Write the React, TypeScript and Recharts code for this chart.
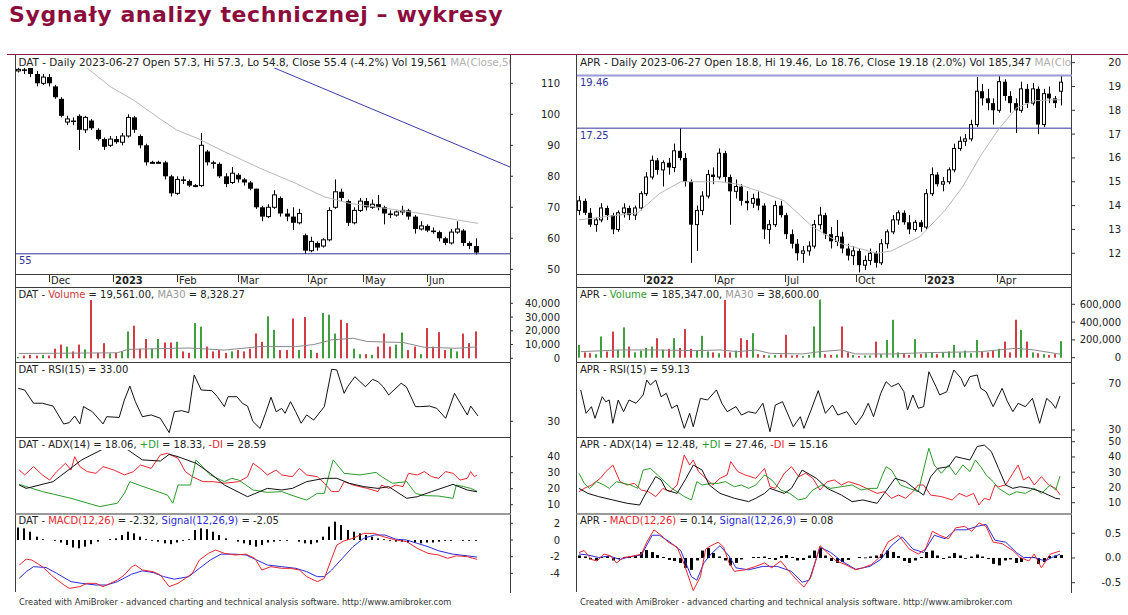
import React from "react";
import { ComposedChart, Bar, Line, XAxis, YAxis, ReferenceLine } from "recharts";

const FONT = '"DejaVu Sans", Verdana, sans-serif';
const RED = "#e8262e";
const GREEN = "#2a9b2a";
const BLUE = "#2b2bd8";
const NAVY = "#333399";
const MA_GRAY = "#b8b8b8";
const VOL_UP = "#3f9f3f";
const VOL_DOWN = "#d23c44";
const PAD = 6;

// DAT - one candle per 2 sessions (open, high, low, close), 2022-11-17 .. 2023-06-27
const datCandles = [
  [114, 115, 113.5, 114.5], [114.5, 115.5, 113, 114], [115, 115.5, 112, 113], [113, 114, 109, 110],
  [110, 113, 109.5, 112], [112, 113, 109, 110], [109, 109.5, 105, 105.5], [105, 105.5, 99, 99.5],
  [97.5, 99.5, 96.5, 98.5], [98, 99, 96.5, 97.5], [99.5, 100, 88.5, 95], [95, 99.5, 94, 99],
  [98, 98.5, 95, 95.5], [95, 95.5, 91.5, 92], [92, 92.5, 88.5, 89.5], [90, 93, 89.5, 92],
  [92, 93, 90.5, 91], [91, 94, 90, 93], [93, 100, 92.5, 99], [99, 99.5, 94, 95],
  [93, 93.5, 89, 90], [90, 90.5, 83.5, 84.5], [84.5, 85, 84, 84.5], [84.5, 85, 84, 84.5],
  [84.5, 85, 79, 80], [80, 80.5, 73.5, 74.5], [74.5, 80, 74, 79], [79, 80, 77.5, 78.5],
  [78.5, 79, 76.5, 77], [77, 77.5, 76.5, 77], [77, 94, 76.5, 90], [88, 88.5, 83.5, 84.5],
  [84.5, 85, 82.5, 84], [84, 84.5, 79.5, 80], [80, 81, 76.5, 77.5], [78, 83, 77.5, 81],
  [80.5, 81, 78, 79], [79, 79.5, 77, 78], [78, 78.5, 75.5, 76], [76, 76, 69.5, 70],
  [70, 70.5, 65.5, 67], [67, 71, 66.5, 70], [70, 75.5, 69.5, 74], [73, 73.5, 67, 68],
  [68, 69.5, 65.5, 67], [67, 70, 62.7, 65], [65, 69.5, 64.5, 68], [61, 61.5, 55, 56],
  [56, 60.5, 55.5, 59], [58.5, 59, 56, 57], [57.5, 60, 57, 59.5], [59.5, 70, 59, 69],
  [70, 79, 69.5, 75], [75, 76, 72, 73], [72, 72.5, 64, 65], [65, 70, 64.5, 69],
  [69, 73, 68.5, 72], [72, 73, 69, 70], [70, 72.5, 69.5, 71], [71, 74, 69, 70],
  [70, 70.5, 64.5, 68], [68, 69, 66.5, 67.5], [67.5, 69, 67, 68.5], [68.5, 70.5, 67.5, 69],
  [69, 69.5, 66, 67], [67, 67.5, 61.5, 63], [63, 65.5, 62.5, 64], [64, 64.5, 62, 62.5],
  [62.5, 63.5, 61.5, 62], [62, 62.5, 59, 60], [60, 60.5, 57.8, 58.5], [58.5, 63, 58, 62],
  [62, 65.5, 61.5, 63], [62.5, 63, 57.5, 58.5], [58.5, 59, 56.5, 57.5], [57.5, 60, 54.8, 55.4],
];
const datVolume = [
  1000, 2000, 2500, 2000, 2500, 2000, 7000, 10000, 8500, 5000,
  10000, 6500, 42700, 4000, 11000, 3500, 4000, 5000, 19500, 23700,
  7000, 14000, 7000, 14000, 11500, 11500, 12000, 5000, 4000, 25600,
  23000, 8500, 5000, 6000, 4000, 5000, 6000, 5000, 7000, 18000,
  12000, 30500, 20700, 6000, 6000, 29000, 6000, 30000, 6000, 4000,
  33000, 31700, 18000, 28000, 25600, 7000, 3000, 3000, 2500, 8500,
  18000, 8500, 10000, 18800, 6000, 8500, 3000, 22000, 8500, 19000,
  6000, 7000, 5000, 18000, 11000, 19561,
];
const datHist = [
  1.5, 1.4, 1.0, 0.4, 0.1, 0, -0.1, -0.3, -0.6, -0.9,
  -1.0, -0.8, -0.5, -0.2, 0, 0.1, 0.2, 0.6, 1.0, 0.8,
  0.4, 0.1, -0.1, -0.2, -0.4, -0.5, -0.3, -0.1, 0.1, 1.2,
  1.4, 1.3, 1.0, 0.6, 0.2, 0, -0.2, -0.4, -0.6, -0.8,
  -0.6, -0.3, -0.2, -0.1, -0.1, 0, -0.2, -0.4, -0.5, -0.3,
  0.4, 1.6, 2.2, 1.8, 1.2, 1.0, 0.8, 0.6, 0.4, 0.2,
  0.1, -0.1, -0.2, -0.2, -0.3, -0.3, -0.4, -0.3, -0.3, -0.2,
  -0.1, -0.1, 0, -0.05, -0.05, -0.1,
];
// [session, value] points
const datMa = [[22, 115.4], [30.2, 108.9], [37.8, 104.6], [45.5, 99.2], [52, 94.9], [58.6, 92.3], [67.5, 88], [79.3, 82.6], [91.1, 77.7], [100.3, 73.4], [108.5, 71.3], [120.3, 69.7], [132.1, 68], [143.6, 66], [150.8, 64.8]];
const datTrend = [[83.4, 115.2], [161.3, 83]];
const datVolMa = [[0.3, 3500], [32.5, 4000], [36, 6500], [56, 7500], [67.6, 6000], [79.3, 8500], [91, 8500], [96.9, 10000], [102.8, 13400], [109.8, 14600], [114.5, 12200], [126.2, 11500], [133.2, 8000], [143.7, 7300], [150.5, 8328]];
const datRsi = [[0, 48.6], [2.1, 47.7], [5, 40.2], [7.9, 40.2], [11.4, 38.6], [14.9, 28.5], [16.7, 29.2], [18.5, 33], [20.2, 28.5], [21.4, 38.3], [24.3, 35.4], [27.8, 28.5], [29, 32.6], [33.1, 32.2], [34.8, 42], [36.6, 49.9], [38.4, 41.1], [40.7, 32.6], [43.6, 33.6], [46.6, 31.7], [49.5, 23.6], [51.2, 35.4], [53.6, 36], [55.9, 34.9], [57.7, 56.2], [60, 47.7], [63.5, 47.3], [65.3, 43.9], [67.6, 38.3], [68.8, 43.9], [71.7, 43.9], [73.5, 40.2], [75.2, 38.6], [77, 29.8], [79.3, 26], [81.1, 34.5], [82.9, 43.6], [84.6, 35.4], [86.4, 37.3], [87.5, 34.5], [89.3, 41.1], [91, 35.4], [92.8, 28.9], [94.6, 33.6], [96.9, 30.7], [100.4, 38.3], [102.8, 59.4], [104.5, 59], [106.9, 45.8], [108, 49.5], [110.4, 55.2], [113.9, 49.5], [116.2, 53.7], [118, 52.4], [119.7, 49.5], [121.5, 44.9], [125.6, 51.5], [127.3, 49.5], [130.3, 38.3], [132, 38.3], [134.9, 38.6], [137.3, 37.3], [140.2, 31.7], [143.1, 45.8], [147.3, 33.6], [148.4, 38.6], [150.8, 33]];
const datAdx = [[0.3, 22.3], [2.6, 20.2], [11.4, 24.4], [20.8, 38], [27.2, 44.2], [31.3, 49], [36, 44.2], [40.7, 38], [46.6, 37.3], [49.5, 41.5], [52.4, 40], [58.3, 35.9], [63, 29.6], [67.6, 22.3], [75.2, 15], [81.7, 20.2], [86.4, 19.2], [89.9, 20.2], [94.6, 24.4], [100.4, 26.5], [104.5, 26.5], [108.6, 23.4], [113.3, 21.3], [118, 20.2], [121.5, 21.3], [127.4, 14], [130.9, 15], [135.6, 18.2], [142.6, 22.7], [147.3, 19.2], [150.5, 18.06]];
const datPlusDi = [[0.3, 22.7], [7.9, 18.2], [17.3, 14], [26.7, 8.8], [32.5, 10.9], [34.8, 17.1], [36.6, 24.4], [39.5, 22.3], [44.2, 19.2], [48.9, 16.1], [50.7, 10.9], [52.4, 22.3], [56.5, 22.3], [58.3, 38], [63, 28.6], [67.6, 24.4], [70, 26.5], [72.3, 25.4], [77, 19.2], [81.7, 17.7], [86.4, 18.2], [91.1, 15], [94.6, 12.9], [98.1, 17.1], [100.4, 17.1], [102.2, 30.7], [103.3, 38], [106.9, 29.6], [112.1, 28.6], [117.4, 30.2], [119.2, 27.5], [122.7, 23.4], [127.4, 24.4], [130.3, 17.1], [133.2, 15.7], [137.9, 15.4], [142.6, 14], [143.7, 22.3], [146.1, 21.3], [148.4, 20.2], [150.5, 18.33]];
const datMinusDi = [[0.3, 31.7], [2.1, 28.6], [5, 33.8], [7.9, 28.6], [10.3, 25.4], [12.6, 30.7], [15.5, 35.9], [17.3, 31.7], [18.5, 40], [20.2, 33.8], [22.6, 30.7], [25.5, 29.6], [27.8, 33.8], [31.3, 31.7], [34.8, 28.6], [37.8, 30.7], [40.1, 34.8], [43.6, 32.7], [46.6, 41.1], [48.9, 42.1], [52.4, 39], [54.8, 30.7], [57.1, 27.5], [60.6, 24.4], [64.1, 24.4], [67.6, 23.4], [72.3, 24.4], [75.2, 27.5], [77, 35.9], [79.3, 32.7], [81.7, 28.6], [84.6, 31.7], [86.4, 28.6], [89.9, 27.5], [92.2, 32.7], [94.6, 28.6], [98.1, 27.5], [100.4, 23.4], [102.8, 18.2], [105.1, 18.2], [106.9, 24.4], [109.8, 22.3], [114.5, 20.2], [118, 18.2], [119.2, 22.3], [121.5, 20.2], [123.8, 22.3], [126.2, 21.3], [128, 29.6], [130.9, 28.6], [133.2, 30.7], [135.6, 27.5], [137.9, 26.5], [140.2, 30.7], [142.6, 29.6], [144.9, 25.4], [147.3, 26.5], [148.4, 30.7], [149.6, 27.5], [150.5, 28.59]];
const datMacd = [[0.3, -3], [2.6, -2.3], [4.4, -2.4], [7.9, -3.2], [11.4, -4.4], [15, -5.4], [16.7, -5.8], [20.2, -5.6], [22.6, -5.2], [25.5, -5.2], [27.8, -5.6], [30.2, -5.2], [32.5, -4.8], [34.8, -4.2], [37.2, -3.2], [38.4, -3], [40.7, -3.6], [44.2, -3.8], [46.6, -4.2], [49.5, -5.6], [52.4, -5.2], [54.8, -4.6], [57.1, -4], [59.4, -2.4], [62.4, -1.6], [64.7, -1.2], [67.6, -1.6], [71.1, -1.8], [74.7, -1.7], [77.6, -2.2], [79.9, -3.6], [82.9, -3.2], [86.4, -3.4], [89.3, -3.4], [92.2, -3.6], [94.6, -4.4], [98.1, -5], [100.4, -4.6], [102.8, -2.2], [104.5, -0.6], [106.9, -0.1], [109.8, 0.2], [113.3, 0.8], [116.8, 0.8], [119.7, 0.4], [123.8, 0], [127.4, -0.2], [130.9, -1], [134.4, -1.6], [137.9, -1.8], [140.8, -2.2], [143.7, -1.9], [147.3, -2], [150.5, -2.32]];
const datSignal = [[0.3, -4.6], [2.6, -3.8], [5, -3.2], [9.1, -3.3], [12.6, -4], [17.3, -5], [20.8, -5.2], [25.5, -5.4], [29, -5.4], [32.5, -5], [37.2, -4.1], [40.7, -3.7], [44.2, -3.9], [47.7, -4.4], [51.2, -4.7], [55.9, -4.4], [59.4, -3.4], [63, -2.4], [66.5, -1.7], [71.1, -1.7], [74.7, -1.8], [78.2, -2.4], [81.7, -3], [86.4, -3.2], [91.1, -3.4], [94.6, -3.8], [98.1, -4.4], [100.4, -4.4], [102.8, -3.6], [106.3, -2.2], [109.8, -0.8], [113.3, 0.2], [116.8, 0.6], [120.3, 0.6], [123.8, 0.1], [127.4, 0], [130.9, -0.4], [134.4, -0.8], [137.9, -1.3], [142.6, -1.7], [147.3, -1.9], [150.5, -2.05]];
const datMonths = [[10, "Dec"], [31, "2023"], [52, "Feb"], [72, "Mar"], [95, "Apr"], [113, "May"], [134, "Jun"]];
const datLevels = [55];

// APR - one candle per 5 sessions, 2021-10 .. 2023-06-27
const aprCandles = [
  [13.8, 14.4, 13.6, 14.2], [14.2, 14.3, 13.6, 13.7], [13.7, 13.9, 13.1, 13.2], [13.2, 13.5, 12.9, 13.4],
  [13.4, 14.1, 13.3, 13.9], [13.9, 14.0, 13.4, 13.6], [13.6, 13.7, 12.8, 13.0], [13.0, 13.8, 12.9, 13.7],
  [13.7, 14.1, 13.5, 13.9], [13.9, 14.0, 13.4, 13.6], [13.6, 14.0, 13.4, 13.9], [13.9, 14.6, 13.8, 14.5],
  [14.5, 15.4, 14.4, 15.2], [15.2, 16.1, 15.1, 15.9], [15.9, 16.0, 15.3, 15.5], [15.5, 15.9, 14.8, 15.8],
  [15.8, 16.0, 15.3, 15.6], [15.6, 16.6, 15.4, 16.3], [16.3, 17.25, 15.9, 16.0], [16.0, 16.2, 14.8, 15.0],
  [15.0, 15.1, 11.6, 13.2], [13.2, 14.0, 12.1, 13.8], [13.8, 14.6, 13.6, 14.4], [14.4, 15.5, 14.3, 15.3],
  [15.3, 15.6, 14.9, 15.2], [15.2, 16.4, 15.1, 16.2], [16.2, 16.3, 15.0, 15.2], [15.2, 15.3, 13.2, 14.6],
  [14.6, 15.1, 14.3, 14.8], [14.8, 14.9, 14.0, 14.2], [14.2, 14.6, 13.8, 14.1], [14.1, 14.5, 13.9, 14.3],
  [14.3, 14.6, 13.8, 14.0], [14.0, 14.1, 12.6, 13.0], [13.0, 13.4, 12.4, 13.2], [13.2, 14.2, 13.1, 14.0],
  [14.0, 14.2, 13.5, 13.6], [13.6, 13.7, 12.6, 12.8], [12.8, 13.0, 12.2, 12.4], [12.4, 12.6, 11.7, 12.0],
  [12.0, 12.3, 11.6, 12.1], [12.1, 12.5, 11.9, 12.3], [12.3, 13.4, 12.2, 13.2], [13.2, 13.95, 13.0, 13.6],
  [13.6, 13.7, 12.6, 12.8], [12.8, 13.1, 12.2, 12.5], [12.5, 13.4, 12.3, 12.7], [12.7, 12.9, 12.0, 12.2],
  [12.2, 12.4, 11.7, 11.9], [11.9, 12.3, 11.5, 12.1], [12.1, 12.2, 11.2, 11.5], [11.5, 11.9, 11.3, 11.7],
  [11.7, 12.2, 11.5, 12.0], [12.0, 12.1, 11.4, 11.6], [11.6, 12.6, 11.5, 12.4], [12.4, 13.0, 12.2, 12.9],
  [12.9, 13.6, 12.8, 13.4], [13.4, 13.8, 13.2, 13.7], [13.7, 13.8, 13.2, 13.3], [13.3, 13.6, 12.8, 13.0],
  [13.0, 13.4, 12.9, 13.3], [13.3, 13.4, 12.9, 13.1], [13.1, 14.7, 13.0, 14.5], [14.5, 15.6, 14.4, 15.3],
  [15.3, 15.4, 14.8, 14.9], [14.9, 15.2, 14.6, 15.0], [15.0, 15.6, 14.9, 15.5], [15.5, 16.6, 15.4, 16.4],
  [16.4, 16.9, 16.3, 16.7], [16.7, 17.0, 16.5, 16.8], [16.8, 17.6, 16.7, 17.4], [17.4, 19.4, 17.3, 18.8],
  [18.8, 19.1, 18.2, 18.5], [18.5, 18.9, 18.0, 18.3], [18.3, 18.5, 17.4, 18.0], [18.0, 19.46, 17.9, 19.2],
  [19.2, 19.3, 18.4, 18.6], [18.6, 18.8, 17.9, 18.3], [18.3, 18.5, 17.05, 18.0], [18.0, 19.2, 17.9, 18.9],
  [18.9, 19.1, 18.1, 18.3], [18.3, 19.15, 18.2, 18.9], [18.9, 19.0, 17.0, 17.4], [17.4, 18.9, 17.3, 18.7],
  [18.7, 19.0, 18.3, 18.5], [18.5, 18.6, 18.1, 18.3], [18.8, 19.46, 18.2, 19.18],
];
const aprVolume = [
  143000, 60000, 50000, 40000, 238000, 70000, 294000, 90000, 340000, 125000,
  60000, 80000, 110000, 125000, 219000, 90000, 100000, 219000, 110000, 321000,
  100000, 80000, 245000, 70000, 60000, 50000, 653000, 60000, 80000, 219000,
  200000, 275000, 40000, 30000, 25000, 30000, 35000, 257000, 25000, 30000,
  20000, 30000, 351000, 653000, 40000, 30000, 35000, 351000, 60000, 30000,
  20000, 25000, 25000, 181000, 40000, 200000, 426000, 60000, 40000, 30000,
  208000, 40000, 50000, 60000, 40000, 60000, 70000, 143000, 60000, 80000,
  50000, 200000, 70000, 60000, 80000, 100000, 181000, 60000, 426000, 313000,
  181000, 60000, 50000, 40000, 30000, 40000, 185347,
];
const aprHist = [
  0.05, 0.03, -0.03, -0.05, 0.02, 0.04, -0.05, -0.02, 0.02, 0.03,
  0.05, 0.12, 0.16, 0.12, 0.06, 0.02, -0.04, -0.06, -0.1, -0.2,
  -0.24, -0.05, 0.15, 0.2, 0.1, 0.03, -0.05, -0.15, -0.1, -0.03,
  0, 0.02, 0.02, 0.03, -0.02, -0.04, 0.04, 0.06, 0.02, -0.05,
  -0.04, 0.05, 0.15, 0.2, 0.05, -0.06, -0.1, -0.08, -0.04, 0,
  0.02, 0.01, 0.03, 0.05, 0.08, 0.15, 0.12, 0.04, -0.06, -0.1,
  -0.05, 0.02, 0.12, 0.15, 0.05, -0.02, 0.03, 0.1, 0.05, -0.01,
  0.03, 0.07, 0.03, -0.02, -0.12, -0.15, -0.05, -0.03, -0.1, -0.08,
  0, 0.02, -0.12, -0.08, 0.04, 0.05, 0.06,
];
const aprMa = [[0, 13.4], [52.5, 13.7], [71.7, 14.5], [90.8, 15.0], [125.9, 15.0], [141.8, 14.9], [161, 14.6], [183.3, 14.2], [208.8, 13.1], [234.3, 12.4], [266.2, 12.0], [279, 12.1], [304.5, 12.7], [326.8, 13.8], [342.7, 14.8], [358.7, 16.1], [374.6, 17.2], [390.6, 18.1], [406.5, 18.4], [430, 18.45]];
const aprVolMa = [[1.5, 68000], [36.6, 87000], [71.7, 87000], [103.6, 79000], [125.9, 87000], [141.8, 68000], [157.8, 87000], [170.5, 49000], [199.2, 42000], [215.2, 68000], [234.3, 87000], [247.1, 42000], [279, 42000], [310.9, 57000], [358.7, 68000], [390.6, 106000], [406.5, 87000], [430, 38600]];
const aprRsi = [[1.5, 64.3], [6.3, 44.3], [11.1, 50], [14.3, 40], [20.7, 58.5], [23.9, 54.2], [27, 55.7], [30.2, 35.7], [35, 55.7], [39.8, 45.7], [44.6, 55.7], [50.9, 52.9], [57.3, 60], [60.5, 72.8], [63.7, 68.5], [68.5, 72.8], [73.3, 58.5], [78, 61.4], [82.8, 48.6], [87.6, 51.4], [94, 31.4], [98.8, 44.3], [102, 32.8], [108.4, 57.1], [114.7, 55.7], [122.7, 64.3], [127.5, 52.9], [132.3, 45.7], [140.2, 50], [145, 42.8], [151.4, 45.7], [157.8, 44.3], [164.2, 52.9], [170.5, 28.5], [175.3, 51.4], [181.7, 54.2], [184.9, 47.1], [191.3, 32.8], [197.6, 41.4], [200.8, 31.4], [207.2, 47.1], [213.6, 63.7], [220, 44.3], [226.3, 51.4], [231.1, 42.8], [239.1, 45.7], [247.1, 34.3], [253.4, 42.8], [258.2, 52.9], [263, 41.4], [269.4, 61.4], [274.2, 71.4], [279, 67.1], [285.3, 70], [290.1, 62.8], [293.3, 47.1], [298.1, 60], [302.9, 48.6], [307.7, 50], [312.4, 79.9], [318.8, 67.1], [322, 60], [328.4, 62.8], [334.7, 81.4], [341.1, 74.3], [344.3, 67.1], [349.1, 75.7], [355.5, 77.1], [358.7, 65.7], [363.5, 62.8], [369.8, 50], [377.8, 65.7], [382.6, 54.2], [387.4, 45.7], [392.1, 52.9], [398.5, 50], [404.9, 57.1], [411.3, 35.7], [417.6, 57.1], [422.4, 52.9], [425.6, 48.6], [429.5, 59.13]];
const aprAdx = [[0, 19.4], [7.9, 16.1], [17.5, 14], [30.2, 11.8], [43, 9.6], [54.1, 8.5], [60.5, 17.2], [68.5, 27.1], [73.3, 24.9], [78, 18.3], [87.6, 16.1], [95.6, 26], [102, 34.7], [109.9, 31.4], [116.3, 21.6], [125.9, 16.1], [138.7, 12.9], [151.4, 10.7], [157.8, 12.9], [165.7, 16.1], [170.5, 19.4], [183.3, 16.1], [189.7, 19.4], [199.2, 31.4], [212, 26], [221.6, 19.4], [234.3, 15], [243.9, 10.7], [253.4, 11.8], [266.2, 9.6], [272.6, 16.1], [282.2, 26], [291.7, 23.8], [301.3, 18.3], [307.7, 15], [314, 27.1], [320.4, 32.5], [330, 33.6], [336.3, 40.2], [342.7, 39.1], [349.1, 38], [355.5, 46.8], [361.9, 47.8], [368.2, 43.5], [374.6, 32.5], [381, 21.6], [387.4, 19.4], [393.7, 20.5], [403.3, 19.4], [412.9, 17.2], [419.3, 15], [425.6, 12.9], [429.5, 12.48]];
const aprPlusDi = [[0, 29.3], [4.7, 22.7], [9.5, 19.4], [15.9, 23.8], [22.3, 21.6], [27, 19.4], [33.4, 23.8], [39.8, 22.7], [46.2, 21.6], [52.5, 19.4], [57.3, 31.4], [63.7, 32.5], [70.1, 28.2], [76.5, 23.8], [82.8, 19.4], [87.6, 17.2], [94, 14], [100.4, 11.8], [105.2, 23.8], [109.9, 21.6], [117.9, 22.7], [124.3, 22.7], [130.7, 23.8], [138.7, 20.5], [145, 21.6], [151.4, 19.4], [157.8, 21.6], [165.7, 28.2], [172.1, 24.9], [180.1, 18.3], [188.1, 16.1], [196.1, 11.8], [202.4, 12.9], [208.8, 18.3], [216.8, 21.6], [224.8, 19.4], [234.3, 20.5], [243.9, 21.6], [251.9, 18.3], [259.8, 19.4], [266.2, 19.4], [271, 28.2], [274.2, 33.6], [279, 31.4], [286.9, 21.6], [294.9, 19.4], [302.9, 17.2], [310.9, 41.3], [312.4, 45.7], [317.2, 34.7], [323.6, 29.3], [330, 34.7], [336.3, 28.2], [342.7, 34.7], [349.1, 30.4], [353.9, 38], [358.7, 33.6], [363.5, 28.2], [369.8, 23.8], [374.6, 19.4], [384.2, 15], [390.6, 17.2], [398.5, 16.1], [406.5, 19.4], [412.9, 16.1], [420.9, 21.6], [425.6, 18.3], [429.5, 27.46]];
const aprMinusDi = [[0, 17.2], [4.7, 19.4], [11.1, 21.6], [19.1, 26], [23.9, 30.4], [30.2, 34.7], [36.6, 23.8], [43, 21.6], [49.4, 22.7], [55.7, 18.3], [62.1, 17.2], [68.5, 14], [74.9, 19.4], [81.2, 17.2], [87.6, 21.6], [94, 41.3], [98.8, 34.7], [102, 38], [106.8, 30.4], [113.1, 26], [119.5, 21.6], [125.9, 26], [132.3, 28.2], [135.5, 36.9], [141.8, 30.4], [148.2, 28.2], [157.8, 26], [165.7, 32.5], [170.5, 20.5], [175.3, 19.4], [183.3, 29.3], [189.7, 33.6], [196.1, 27.1], [202.4, 29.3], [208.8, 26], [215.2, 18.3], [221.6, 23.8], [228, 24.9], [234.3, 21.6], [240.7, 23.8], [250.3, 21.6], [259.8, 18.3], [266.2, 16.1], [272.6, 17.2], [279, 12.9], [285.3, 15], [291.7, 12.9], [298.1, 17.2], [302.9, 21.6], [307.7, 21.6], [314, 15], [323.6, 14], [333.2, 11.8], [339.5, 16.1], [345.9, 14], [352.3, 16.1], [357.1, 8.5], [361.9, 12.9], [366.7, 11.8], [371.4, 21.6], [374.6, 20.5], [381, 21.6], [387.4, 29.3], [392.1, 34.7], [396.9, 24.9], [401.7, 27.1], [406.5, 21.6], [412.9, 27.1], [419.3, 21.6], [425.6, 19.4], [429.5, 15.16]];
const aprMacd = [[0, 0.11], [4.7, 0.15], [11.1, -0.03], [15.9, -0.06], [22.3, 0.08], [28.6, 0.04], [33.4, -0.1], [39.8, 0.01], [49.4, 0.04], [55.7, 0.08], [60.5, 0.32], [66.9, 0.57], [73.3, 0.46], [79.6, 0.32], [87.6, 0.22], [94, -0.13], [98.8, -0.45], [102, -0.66], [108.4, -0.38], [113.1, 0.18], [117.9, 0.25], [124.3, 0.32], [129.1, 0.22], [133.9, -0.1], [138.7, -0.27], [148.2, -0.24], [157.8, -0.17], [165.7, -0.1], [172.1, -0.2], [180.1, -0.06], [186.5, -0.24], [194.5, -0.45], [200.8, -0.59], [207.2, -0.38], [215.2, 0.25], [221.6, 0.11], [229.6, -0.06], [237.5, -0.13], [247.1, -0.24], [253.4, -0.2], [261.4, -0.13], [269.4, 0.04], [275.8, 0.32], [285.3, 0.46], [294.9, 0.18], [302.9, 0.08], [309.3, 0.18], [315.6, 0.54], [322, 0.46], [330, 0.39], [336.3, 0.61], [344.3, 0.64], [350.7, 0.54], [357.1, 0.71], [363.5, 0.64], [369.8, 0.32], [377.8, 0.29], [387.4, 0.15], [393.7, 0.01], [401.7, -0.06], [406.5, 0.08], [412.9, -0.2], [420.9, 0.08], [429.5, 0.14]];
const aprSignal = [[0, 0.08], [7.9, 0.06], [17.5, 0.01], [27, 0.04], [36.6, -0.03], [46.2, 0.03], [55.7, 0.06], [65.3, 0.46], [71.7, 0.46], [81.2, 0.32], [90.8, 0.15], [100.4, -0.38], [105.2, -0.45], [111.5, -0.1], [117.9, 0.08], [125.9, 0.25], [133.9, 0.04], [140.2, -0.2], [151.4, -0.24], [164.2, -0.17], [176.9, -0.17], [189.7, -0.27], [199.2, -0.49], [205.6, -0.45], [215.2, 0.22], [224.8, 0.11], [234.3, -0.06], [247.1, -0.23], [259.8, -0.17], [269.4, -0.03], [279, 0.25], [288.5, 0.43], [298.1, 0.18], [307.7, 0.11], [317.2, 0.46], [326.8, 0.39], [336.3, 0.57], [345.9, 0.57], [355.5, 0.64], [363.5, 0.68], [371.4, 0.36], [381, 0.32], [390.6, 0.11], [396.9, 0.01], [406.5, 0.01], [416.1, -0.06], [422.4, 0.01], [429.5, 0.08]];
const aprMonths = [[58, "2022"], [121, "Apr"], [184, "Jul"], [247, "Oct"], [309, "2023"], [373, "Apr"]];
const aprLevels = [19.46, 17.25];

const pts = (a: number[][]) => a.map(([x, y]) => ({ x, y }));
const table = (candles: number[][], vol: number[], hist: number[], step: number) =>
  candles.map(([o, h, l, c], i) => ({ x: i * step, o, h, l, c, range: [l, h], v: vol[i], hist: hist[i] }));

const datTable = table(datCandles, datVolume, datHist, 2);
const aprTable = table(aprCandles, aprVolume, aprHist, 5);

const LEFT = { x: 16, w: 494, axisW: 60, dom: [-0.75, 161.3], body: 5, volW: 2, histW: 2 };
const RIGHT = { x: 577, w: 495, axisW: 56, dom: [-1.8, 440.2], body: 4, volW: 2, histW: 3 };

// bar centre from recharts' own x/width, drawn with a fixed pixel width
function Candle(p: any) {
  const { x, y, width, height, payload, bodyW } = p;
  if (!payload || !isFinite(y)) return null;
  const { o, h, l, c } = payload;
  const k = h > l ? height / (h - l) : 0;
  const cx = Math.round(x + width / 2);
  const yo = y + (h - o) * k;
  const yc = y + (h - c) * k;
  const up = c >= o;
  const left = cx - Math.floor(bodyW / 2);
  const top = Math.min(yo, yc);
  const bh = Math.max(1, Math.abs(yo - yc));
  return (
    <g>
      <line x1={cx + 0.5} x2={cx + 0.5} y1={y} y2={y + height} stroke="#000" strokeWidth={1} />
      {up ? (
        <rect x={left + 0.5} y={top} width={bodyW - 1} height={bh} fill="#fff" stroke="#000" strokeWidth={1} />
      ) : (
        <rect x={left} y={top} width={bodyW} height={bh} fill="#000" />
      )}
    </g>
  );
}

function CrispBar(p: any) {
  const { x, y, width, height, payload, color, barW } = p;
  if (!isFinite(y) || !height) return null;
  const fill = color || (payload.c >= payload.o ? VOL_UP : VOL_DOWN);
  const cx = Math.round(x + width / 2);
  return <rect x={cx - Math.floor(barW / 2)} y={Math.min(y, y + height)} width={barW} height={Math.max(0.8, Math.abs(height))} fill={fill} />;
}

function DateTick({ x, payload, h, dates }: any) {
  const d = dates.find((e: any) => e[0] === payload.value);
  if (!d) return null;
  const year = /^\d{4}$/.test(d[1]);
  const base = PAD + h;
  const tx = Math.round(x) + 0.5;
  return (
    <g>
      <line x1={tx} x2={tx} y1={base + 1} y2={base + 8} stroke="#333" />
      <text x={tx + 1.5} y={base + 9.5} fontSize={10} fontWeight={year ? "bold" : "normal"} fill="#222" fontFamily={FONT}>{d[1]}</text>
    </g>
  );
}

const levelLabel = (text: string) => (p: any) => (
  <text x={p.viewBox.x + 3} y={p.viewBox.y + 10.5} fontSize={10} fill={NAVY} fontFamily={FONT}>{text}</text>
);

function Pane(props: any) {
  const { side, top, h, yDomain, yTicks, fmt, data, dates, children } = props;
  const dateH = dates ? 13 : 0;
  return (
    <div style={{ position: "absolute", left: side.x, top: top - PAD }}>
      <ComposedChart width={side.w + side.axisW} height={h + dateH + 2 * PAD} data={data}
        margin={{ top: PAD, right: 0, bottom: PAD, left: 0 }}>
        <XAxis type="number" dataKey="x" domain={side.dom} allowDataOverflow hide={!dates} height={dateH || 1}
          ticks={dates ? dates.map((d: any) => d[0]) : undefined} interval={0} axisLine={false} tickLine={false}
          tick={dates ? (p: any) => <DateTick {...p} h={h} dates={dates} /> : false} />
        <YAxis orientation="right" width={side.axisW} domain={yDomain} allowDataOverflow ticks={yTicks} interval={0}
          axisLine={false} tickSize={3} tickLine={{ stroke: "#333" }}
          tick={(p: any) => (
            <text x={544} y={p.y} dy={3.5} textAnchor="end" fontSize={10} fill="#222" fontFamily={FONT}>
              {fmt ? fmt(p.payload.value) : p.payload.value}
            </text>
          )} />
        {children}
      </ComposedChart>
    </div>
  );
}

function Header({ left, top, parts, size = 10 }: any) {
  return (
    <div style={{ position: "absolute", left, top, width: 491, overflow: "hidden", whiteSpace: "nowrap", fontSize: size, lineHeight: "12px", fontFamily: FONT, color: "#222" }}>
      <span style={{ background: "#fff" }}>
        {parts.map((p: any, i: number) => <span key={i} style={{ color: p[1] || "#222" }}>{p[0]}</span>)}
      </span>
    </div>
  );
}

const fmtVol = (v: number) => v.toLocaleString("en-US");

function panels(side: any, t: any) {
  const line = (d: number[][], color: string, w = 1) => (
    <Line data={pts(d)} dataKey="y" stroke={color} strokeWidth={w} dot={false} isAnimationActive={false} />
  );
  return (
    <>
      <Pane side={side} top={55} h={219} yDomain={t.priceDom} yTicks={t.priceTicks} data={t.table} dates={t.months}>
        {t.levels.map((v: number, i: number) => (
          <ReferenceLine key={v} y={v} stroke={i === 0 && t.levels.length > 1 ? "#9a9ad6" : NAVY}
            strokeWidth={i === 0 && t.levels.length > 1 ? 2 : 1} label={levelLabel(String(v))} />
        ))}
        {line(t.ma, MA_GRAY)}
        {t.trend && line(t.trend, "#3a3aa8")}
        <Bar dataKey="range" barSize={side.body} shape={(p: any) => <Candle {...p} bodyW={side.body} />} isAnimationActive={false} />
      </Pane>
      <Pane side={side} top={288} h={74} yDomain={t.volDom} yTicks={t.volTicks} fmt={fmtVol} data={t.table}>
        <Bar dataKey="v" barSize={side.volW} shape={(p: any) => <CrispBar {...p} barW={side.volW} />} isAnimationActive={false} />
        {line(t.volMa, "#8a8a8a")}
      </Pane>
      <Pane side={side} top={363} h={74} yDomain={t.rsiDom} yTicks={t.rsiTicks} data={t.table}>
        {line(t.rsi, "#111")}
      </Pane>
      <Pane side={side} top={438} h={76} yDomain={t.adxDom} yTicks={t.adxTicks} data={t.table}>
        {line(t.minusDi, RED)}
        {line(t.plusDi, GREEN)}
        {line(t.adx, "#111")}
      </Pane>
      <Pane side={side} top={515} h={78} yDomain={t.macdDom} yTicks={t.macdTicks} fmt={t.macdFmt} data={t.table}>
        <Bar dataKey="hist" barSize={side.histW} shape={(p: any) => <CrispBar {...p} barW={side.histW} color="#000" />} isAnimationActive={false} />
        {line(t.signal, BLUE)}
        {line(t.macd, RED)}
      </Pane>
    </>
  );
}

function headers(x: number, tk: string, h: any) {
  return (
    <>
      <Header left={x} top={55.5} size={10.4} parts={[[`${tk} - Daily 2023-06-27 ${h.daily} `], ["MA(Close,50)", "#b0b0b0"]]} />
      <Header left={x} top={288.5} parts={[[`${tk} - `], ["Volume", h.volColor], [` = ${h.vol}, `], ["MA30", "#9a9a9a"], [` = ${h.volMa}`]]} />
      <Header left={x} top={363.5} parts={[[`${tk} - RSI(15) = ${h.rsi}`]]} />
      <Header left={x} top={438.5} parts={[[`${tk} - ADX(14) = ${h.adx}, `], ["+DI", GREEN], [` = ${h.pdi}, `], ["-DI", RED], [` = ${h.mdi}`]]} />
      <Header left={x} top={515} parts={[[`${tk} - `], ["MACD(12,26)", RED], [` = ${h.macd}, `], ["Signal(12,26,9)", BLUE], [` = ${h.sig}`]]} />
    </>
  );
}

export default function App() {
  const frame = (x0: number, x1: number) => (
    <g stroke="#3c3c3c" strokeWidth={1}>
      <line x1={x0} x2={x0} y1={54.5} y2={592} />
      <line x1={x1} x2={x1} y1={54.5} y2={593} />
      {[274.5, 287.5, 362.5, 437.5].map((y) => <line key={y} x1={x0} x2={x1} y1={y} y2={y} />)}
      <line x1={x0} x2={x1} y1={514} y2={514} stroke="#9a9a9a" strokeWidth={2} />
    </g>
  );
  return (
    <div style={{ position: "absolute", left: 0, top: 0, width: 1128, height: 615, background: "#fff", overflow: "hidden", fontFamily: FONT }}>
      <svg width={1128} height={615} style={{ position: "absolute", left: 0, top: 0 }}>
        <text x={9} y={21.5} fontSize={22} fontWeight="bold" fill="#8c0d3c" letterSpacing={0.6} fontFamily={FONT}>
          Sygnały analizy technicznej – wykresy
        </text>
        <line x1={7} x2={1128} y1={54.5} y2={54.5} stroke="#8c1a48" strokeWidth={1} />
        {frame(15.5, 510.5)}
        {frame(576.5, 1071.5)}
        <text x={19} y={605} fontSize={8.3} fill="#333" fontFamily={FONT}>Created with AmiBroker - advanced charting and technical analysis software. http://www.amibroker.com</text>
        <text x={580} y={605} fontSize={8.3} fill="#333" fontFamily={FONT}>Created with AmiBroker - advanced charting and technical analysis software. http://www.amibroker.com</text>
      </svg>
      {panels(LEFT, {
        table: datTable, months: datMonths, levels: datLevels, ma: datMa, trend: datTrend,
        priceDom: [48.48, 119.13], priceTicks: [50, 60, 70, 80, 90, 100, 110],
        volDom: [-2690, 51130], volTicks: [0, 10000, 20000, 30000, 40000], volMa: datVolMa,
        rsiDom: [21.13, 62.94], rsiTicks: [30], rsi: datRsi,
        adxDom: [4.19, 51.69], adxTicks: [10, 20, 30, 40], adx: datAdx, plusDi: datPlusDi, minusDi: datMinusDi,
        macdDom: [-6.36, 3.0], macdTicks: [-4, -2, 0, 2], macd: datMacd, signal: datSignal,
      })}
      {panels(RIGHT, {
        table: aprTable, months: aprMonths, levels: aprLevels, ma: aprMa,
        priceDom: [11.13, 20.32], priceTicks: [12, 13, 14, 15, 16, 17, 18, 19, 20],
        volDom: [-48300, 783000], volTicks: [0, 200000, 400000, 600000], volMa: aprVolMa,
        rsiDom: [24.0, 87.39], rsiTicks: [30, 70], rsi: aprRsi,
        adxDom: [2.59, 52.43], adxTicks: [10, 20, 30, 40, 50], adx: aprAdx, plusDi: aprPlusDi, minusDi: aprMinusDi,
        macdDom: [-0.709, 0.87], macdTicks: [-0.5, 0, 0.5], macdFmt: (v: number) => v.toFixed(1), macd: aprMacd, signal: aprSignal,
      })}
      {headers(18.5, "DAT", {
        daily: "Open 57.3, Hi 57.3, Lo 54.8, Close 55.4 (-4.2%) Vol 19,561", volColor: "#d23a3a",
        vol: "19,561.00", volMa: "8,328.27", rsi: "33.00", adx: "18.06", pdi: "18.33", mdi: "28.59", macd: "-2.32", sig: "-2.05",
      })}
      {headers(580, "APR", {
        daily: "Open 18.8, Hi 19.46, Lo 18.76, Close 19.18 (2.0%) Vol 185,347", volColor: "#2f9a2f",
        vol: "185,347.00", volMa: "38,600.00", rsi: "59.13", adx: "12.48", pdi: "27.46", mdi: "15.16", macd: "0.14", sig: "0.08",
      })}
    </div>
  );
}
